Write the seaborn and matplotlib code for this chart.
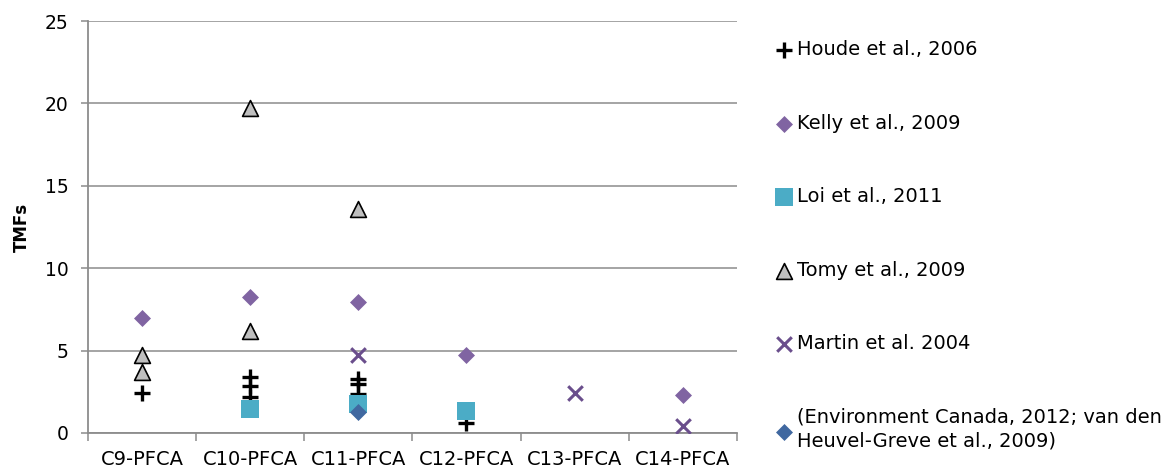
import numpy as np
import pandas as pd
import seaborn as sns
import matplotlib.pyplot as plt
from matplotlib.ticker import FixedLocator

# Categories and series values
categories = ["C9-PFCA", "C10-PFCA", "C11-PFCA", "C12-PFCA", "C13-PFCA", "C14-PFCA"]

houde_cat = ["C9-PFCA", "C10-PFCA", "C10-PFCA", "C10-PFCA", "C11-PFCA", "C11-PFCA", "C11-PFCA", "C12-PFCA"]
houde_val = [2.4, 3.4, 2.85, 2.2, 3.3, 2.95, 2.35, 0.6]

kelly_cat = ["C9-PFCA", "C10-PFCA", "C11-PFCA", "C12-PFCA", "C14-PFCA"]
kelly_val = [7.0, 8.25, 7.95, 4.75, 2.3]

loi_cat = ["C10-PFCA", "C11-PFCA", "C12-PFCA"]
loi_val = [1.45, 1.75, 1.3]

tomy_cat = ["C9-PFCA", "C9-PFCA", "C10-PFCA", "C10-PFCA", "C11-PFCA"]
tomy_val = [4.7, 3.7, 19.7, 6.2, 13.6]

martin_cat = ["C11-PFCA", "C13-PFCA", "C14-PFCA"]
martin_val = [4.7, 2.45, 0.4]

envcan_cat = ["C11-PFCA"]
envcan_val = [1.25]

series = [
    ("Houde et al., 2006", houde_cat, houde_val, dict(marker="+", color="black", s=130, linewidth=2.4)),
    ("Kelly et al., 2009", kelly_cat, kelly_val, dict(marker="D", color="#8064A2", s=75, linewidth=0)),
    ("Loi et al., 2011", loi_cat, loi_val, dict(marker="s", color="#4BACC6", s=150, linewidth=0)),
    ("Tomy et al., 2009", tomy_cat, tomy_val, dict(marker="^", color="#BFBFBF", s=130, edgecolor="black", linewidth=1.2)),
    ("Martin et al. 2004", martin_cat, martin_val, dict(marker="x", color="#6A4E8C", s=110, linewidth=2.2)),
    ("(Environment Canada, 2012; van den\nHeuvel-Greve et al., 2009)", envcan_cat, envcan_val,
     dict(marker="D", color="#4068A0", s=75, linewidth=0)),
]

sns.set_style("white")
plt.rcParams["font.family"] = ["DejaVu Sans"]
plt.rcParams["text.color"] = "black"
plt.rcParams["axes.labelcolor"] = "black"
plt.rcParams["xtick.labelcolor"] = "black"
plt.rcParams["ytick.labelcolor"] = "black"

fig = plt.figure(figsize=(11.75, 4.69), dpi=100)
ax = fig.add_axes([0.075, 0.077, 0.552, 0.878])

for label, cats, vals, style in series:
    df = pd.DataFrame({"x": [categories.index(c) for c in cats], "y": vals})
    sns.scatterplot(data=df, x="x", y="y", ax=ax, label=label, zorder=3, **style)

ax.set_xlim(-0.5, len(categories) - 0.5)
ax.set_ylim(0, 25)
ax.set_yticks(np.arange(0, 26, 5))
ax.yaxis.grid(True, color="#8C8C8C", linewidth=1.1)
ax.set_axisbelow(True)

ax.set_xticks(range(len(categories)))
ax.set_xticklabels(categories, fontsize=14)
ax.xaxis.set_minor_locator(FixedLocator(np.arange(-0.5, len(categories), 1.0)))
ax.tick_params(axis="x", which="major", length=0, pad=12, labelcolor="black")
ax.tick_params(axis="x", which="minor", length=6, color="#8C8C8C", width=1.1, bottom=True)
ax.tick_params(axis="y", length=5, color="#8C8C8C", width=1.1, left=True, labelsize=13.5, pad=9, labelcolor="black")

for side in ["top", "right"]:
    ax.spines[side].set_visible(False)
for side in ["left", "bottom"]:
    ax.spines[side].set_color("#8C8C8C")
    ax.spines[side].set_linewidth(1.3)

ax.set_xlabel("")
ax.set_ylabel("TMFs", fontsize=12, fontweight="bold", labelpad=10, color="black")

leg = ax.legend(loc="upper left", bbox_to_anchor=(1.045, 0.972), frameon=False, fontsize=14,
                labelspacing=2.8, handletextpad=0.1, handlelength=1.1, borderaxespad=0)
for t in leg.get_texts():
    t.set_color("black")
    t.set_linespacing(1.35)

plt.savefig("out.png", dpi=100)
plt.close()
